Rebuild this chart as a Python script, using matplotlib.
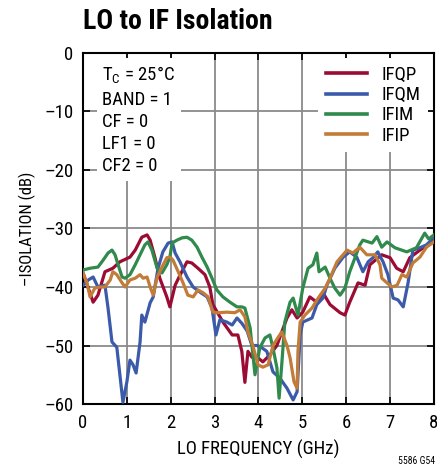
import numpy as np
import matplotlib.pyplot as plt
from matplotlib import font_manager

# IFQP (red)
qp_x = [0, 0.23, 0.34, 0.5, 0.68, 0.84, 1.07, 1.19, 1.34, 1.46, 1.53, 1.64, 1.75, 1.91,
        1.98, 2.1, 2.21, 2.37, 2.48, 2.62, 2.78, 2.89, 2.96, 3.19, 3.4, 3.53, 3.62, 3.69,
        3.76, 3.85, 3.97, 4.1, 4.26, 4.42, 4.53, 4.65, 4.76, 4.88, 5.01, 5.17, 5.33, 5.47,
        5.63, 5.86, 5.97, 6.08, 6.27, 6.43, 6.54, 6.81, 7.0, 7.15, 7.3, 7.45, 7.68, 8.0]
qp_y = [-37.6, -42.6, -41.4, -37.4, -36.8, -35.7, -34.9, -33.7, -31.5, -31.1, -32, -35, -38.5, -41.7,
        -43.4, -39.7, -38, -35.7, -35.9, -36.8, -37.9, -40, -43, -46, -48.2, -48.2, -51, -56.3,
        -51, -52, -52, -52.8, -51.6, -50, -47.7, -45.3, -43.9, -45.3, -44.3, -41.7, -42.6, -41,
        -43, -44.4, -44.8, -42.6, -39.3, -39.7, -36.2, -34.5, -35, -36.8, -37.4, -35, -33.7, -32]

# IFQM (blue)
qm_x = [0, 0.12, 0.23, 0.34, 0.5, 0.57, 0.66, 0.77, 0.84, 0.91, 1.0, 1.07, 1.14, 1.21, 1.3,
        1.34, 1.41, 1.53, 1.6, 1.71, 1.82, 1.94, 2.03, 2.1, 2.21, 2.37, 2.51, 2.67, 2.83, 2.94,
        3.03, 3.12, 3.28, 3.4, 3.51, 3.62, 3.74, 3.85, 3.97, 4.08, 4.19, 4.33, 4.49, 4.65, 4.79,
        4.88, 4.95, 5.01, 5.22, 5.33, 5.47, 5.56, 5.74, 5.93, 6.08, 6.24, 6.38, 6.5, 6.61, 6.72,
        6.84, 6.95, 7.07, 7.18, 7.3, 7.41, 7.52, 7.68, 7.83, 8.0]
qm_y = [-39.7, -38.8, -38.3, -40, -39.7, -43.6, -49.4, -50.3, -55, -59.7, -56.2, -52.5, -53.3, -54.7, -49.4,
        -44.8, -46, -42.7, -41.7, -36.8, -34, -32.5, -32.3, -34.2, -35.7, -38.3, -40, -40.9, -41.7, -43.6,
        -48.2, -45.6, -46, -46.5, -45.3, -46.2, -47.5, -50, -50, -50.4, -51, -54.5, -55.6, -57.3, -59.3,
        -57.9, -48.2, -46, -45.3, -43, -41.9, -39.7, -36.8, -34.9, -34, -34.9, -37.4, -35.7, -35, -34,
        -35.7, -37.9, -41.9, -42.2, -43.4, -39.3, -33.7, -33.3, -32.8, -31.6]

# IFIM (green)
im_x = [0, 0.16, 0.34, 0.46, 0.57, 0.66, 0.73, 0.8, 0.89, 0.96, 1.07, 1.19, 1.3, 1.41, 1.48,
        1.57, 1.69, 1.8, 1.91, 1.98, 2.03, 2.14, 2.26, 2.37, 2.48, 2.6, 2.71, 2.83, 2.94, 3.05,
        3.19, 3.35, 3.51, 3.62, 3.69, 3.81, 3.92, 4.03, 4.15, 4.26, 4.33, 4.42, 4.47, 4.53, 4.6,
        4.72, 4.79, 4.9, 5.01, 5.13, 5.24, 5.33, 5.38, 5.52, 5.63, 5.74, 5.86, 5.97, 6.08, 6.2,
        6.31, 6.38, 6.59, 6.7, 6.81, 6.93, 7.11, 7.38, 7.6, 7.79, 7.88, 8.0]
im_y = [-37.1, -36.8, -36.6, -35.4, -34.2, -33.7, -34.5, -36.2, -38.3, -38.5, -37.9, -36.2, -34.5, -32.8, -32.3,
        -33.7, -36.8, -37.6, -36.2, -34.9, -32.5, -32, -31.6, -31.5, -32, -33.2, -34.9, -36.6, -38.5, -40.5,
        -41.7, -42.6, -43.4, -43.4, -43.6, -47, -55, -50.4, -48.7, -48.2, -50.4, -53.8, -59, -53.3, -46,
        -42.6, -41.9, -44.8, -40.2, -36.8, -36.2, -34.2, -37.4, -36.6, -38.5, -40.2, -41.4, -40.2, -37.4, -35,
        -32.8, -32, -32.5, -31.4, -33.2, -32.3, -33.3, -34, -33.3, -30.8, -31.8, -31.1]

# IFIP (orange)
ip_x = [0, 0.09, 0.16, 0.27, 0.39, 0.5, 0.62, 0.68, 0.77, 0.89, 0.96, 1.07, 1.19, 1.3, 1.37,
        1.46, 1.53, 1.6, 1.69, 1.8, 1.91, 1.98, 2.05, 2.17, 2.28, 2.39, 2.51, 2.62, 2.74, 2.85,
        2.96, 3.08, 3.28, 3.46, 3.58, 3.69, 3.76, 3.87, 3.99, 4.1, 4.22, 4.33, 4.44, 4.53, 4.65,
        4.72, 4.81, 4.88, 4.9, 4.95, 5.06, 5.22, 5.36, 5.52, 5.63, 5.79, 6.02, 6.15, 6.31, 6.47,
        6.66, 6.77, 6.81, 6.93, 7.04, 7.16, 7.27, 7.38, 7.52, 7.68, 7.83, 8.0]
ip_y = [-37.6, -39.3, -41.7, -40.2, -40, -40, -38.8, -37.4, -37.9, -39.3, -40, -38.8, -38.5, -37.9, -38.5,
        -38.3, -40, -41.4, -38.3, -36.6, -35, -34.9, -35.4, -37.4, -39.3, -41.4, -41.7, -40.5, -41, -41.7,
        -44.3, -44.4, -44.3, -44.4, -43.9, -45.1, -47.7, -50, -53.3, -53.7, -53.3, -50, -48.7, -47.7, -50,
        -52.1, -56.2, -57.3, -51, -46, -44.8, -43.6, -41.9, -40.2, -38.5, -35.7, -33.7, -34.2, -33.2, -34.5,
        -34.5, -36.2, -38.5, -39.3, -40, -39.7, -37.9, -38.3, -35.9, -34.9, -33.2, -32.3]

xticks = np.arange(0, 9, 1)
yticks = np.arange(-60, 1, 10)

# narrowest available sans font
installed = {f.name for f in font_manager.fontManager.ttflist}
candidates = ['Liberation Sans Narrow', 'DejaVu Sans Condensed', 'Roboto Condensed',
              'Open Sans Condensed', 'Roboto', 'Liberation Sans']
fam = next((c for c in candidates if c in installed), 'DejaVu Sans')
narrow = fam in ('Liberation Sans Narrow', 'DejaVu Sans Condensed', 'Roboto Condensed',
                 'Open Sans Condensed')
k = 1.0 if narrow else 0.86

plt.rcParams['font.family'] = [fam, 'DejaVu Sans']
plt.rcParams['mathtext.fontset'] = 'custom'
plt.rcParams['mathtext.rm'] = fam

fig = plt.figure(figsize=(4.37, 4.72), dpi=100)
ax = fig.add_axes([0.190, 0.144, 0.803, 0.744])

ax.grid(True, color='#8a8a8a', linewidth=1.3, zorder=0)
ax.set_axisbelow(True)

lw = 2.3
ax.plot(qp_x, qp_y, color='#9b0b33', lw=lw, label='IFQP', zorder=3)
ax.plot(qm_x, qm_y, color='#3c5aaa', lw=lw, label='IFQM', zorder=3)
ax.plot(im_x, im_y, color='#2f8a4c', lw=lw, label='IFIM', zorder=3)
ax.plot(ip_x, ip_y, color='#c27c38', lw=lw, label='IFIP', zorder=3)

ax.set_xlim(0, 8)
ax.set_ylim(-60, 0)
ax.set_xticks(xticks)
ax.set_yticks(yticks)
ax.set_yticklabels(['\u2013%d' % abs(v) if v else '0' for v in yticks])
ax.tick_params(direction='in', length=5, width=1.2, top=True, right=True,
               labelsize=13.5 * k, colors='black', pad=7)
for s in ax.spines.values():
    s.set_linewidth(1.5)

ax.set_xlabel('LO FREQUENCY (GHz)', fontsize=13.5 * k, labelpad=6)
ax.set_ylabel('\u2013ISOLATION (dB)', fontsize=12 * k, labelpad=6)

ax.text(0.055, 0.965,
        'T$_\\mathregular{C}$ = 25\u00b0C\nBAND = 1\nCF = 0\nLF1 = 0\nCF2 = 0',
        transform=ax.transAxes, va='top', ha='left', fontsize=13.5 * k, linespacing=1.3,
        bbox=dict(facecolor='white', edgecolor='none', pad=4), zorder=2)

leg = ax.legend(loc='upper right', fontsize=13.5 * k, frameon=True, fancybox=False,
                edgecolor='none', facecolor='white', framealpha=1,
                handlelength=2.2, handletextpad=0.8, labelspacing=0.12,
                borderaxespad=0.3)
for h in leg.get_lines():
    h.set_linewidth(2.6)

fig.text(0.19, 0.955, 'LO to IF Isolation', fontsize=20 * k, fontweight='bold',
         ha='left', va='center')
fig.text(0.995, 0.012, '5586 G54', fontsize=7, ha='right', va='bottom')

fig.savefig('out.png', dpi=100)
